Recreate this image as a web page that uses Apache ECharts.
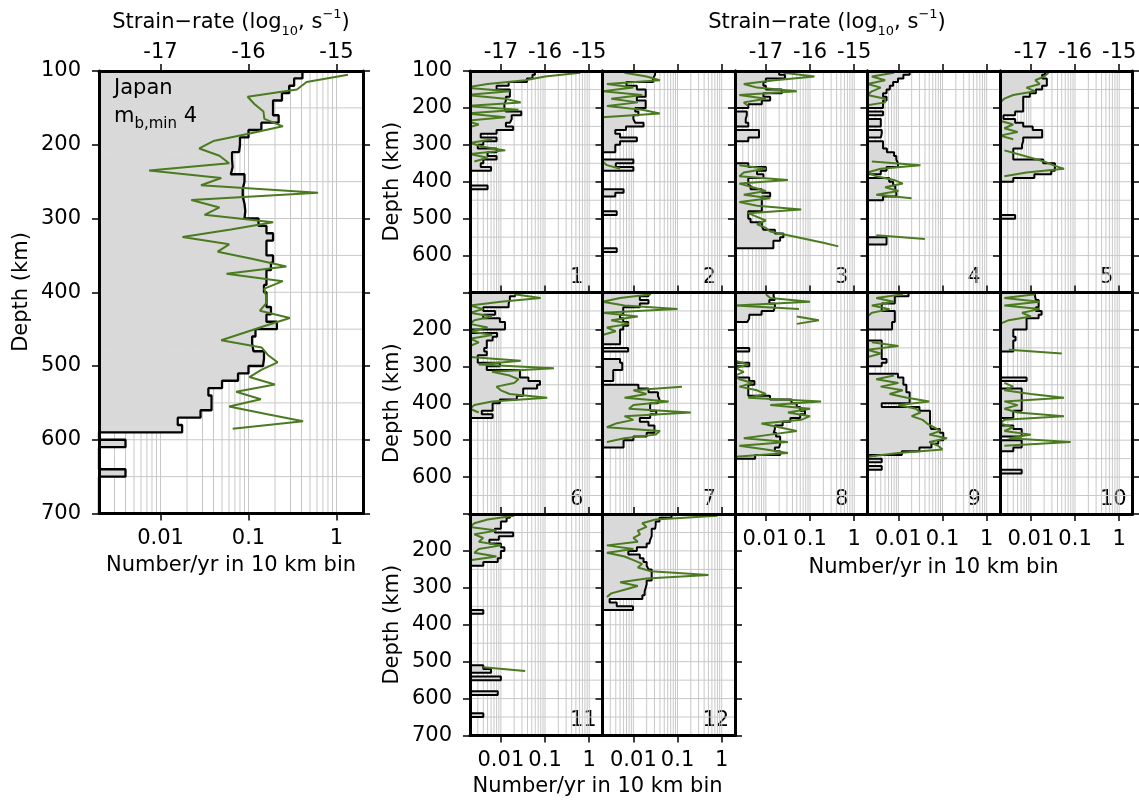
<!DOCTYPE html>
<html><head><meta charset="utf-8">
<script src="https://cdn.jsdelivr.net/npm/echarts@6/dist/echarts.min.js"></script>
<style>html,body{margin:0;padding:0;background:#fff}#c{width:1139px;height:803px}</style>
</head><body><div id="c"></div>
<script>
// ---------------- data ----------------
const DEPTHS = [100,110,120,130,140,150,160,170,180,190,200,210,220,230,240,250,260,270,280,290,
  300,310,320,330,340,350,360,370,380,390,400,410,420,430,440,450,460,470,480,490,
  500,510,520,530,540,550,560,570,580,590,600,610,620,630,640,650,660,670,680,690];
const MID = [105,115,125,135,145,155,165,175,185,195,205,215,225,235,245,255,265,275,285,295,
  305,315,325,335,345,355,365,375,385,395,405,415,425,435,445,455,465,475,485,495,
  505,515,525,535,545,555,565,575,585,595,605,615,625,635,645,655,665,675,685,695];
const BIN = 10;
const X_TICKS = [0.01, 0.1, 1];
const S_TICKS = [-17, -16, -15];
const N = null;

// Number/yr in 10 km bins (depth 100..690)
const H0 = [0.41,0.33,0.29,0.24,0.19,0.19,0.22,0.14,0.10,0.080,0.078,0.065,0.066,0.063,0.090,0.086,0.086,0.090,0.092,0.090,
  0.13,0.16,0.19,0.16,0.16,0.19,0.18,0.16,0.16,0.15,0.16,0.16,0.18,0.16,0.21,0.12,0.11,0.114,0.15,0.146,
  0.10,0.076,0.050,0.035,0.038,0.038,0.0285,0.0157,0.0176,N,0.004,N,N,N,0.004,N,N,N,N,N];
const H1 = [0.059,0.052,0.039,0.015,0.008,0.016,0.016,0.013,0.012,0.012,0.013,0.029,0.0176,0.016,0.013,0.019,0.008,0.0035,0.008,0.004,
  0.003,0.008,0.005,0.008,0.004,0.0035,0.006,N,N,N,N,0.005,N,N,N,N,N,N,N,N,
  N,N,N,N,N,N,N,N,N,N,N,N,N,N,N,N,N,N,N,N];
const H2 = [0.031,0.028,0.028,0.007,0.012,0.019,0.019,0.012,0.019,0.019,0.011,0.013,0.010,0.011,0.017,0.0068,0.0039,0.005,0.012,0.005,
  0.0039,0.0039,N,N,0.010,0.004,0.010,N,N,N,N,N,0.006,0.0039,N,N,N,N,0.0042,N,
  N,N,N,N,N,N,N,N,0.0042,N,N,N,N,N,N,N,N,N,N,N];
const H3 = [0.020,0.027,0.010,0.0088,0.010,0.023,0.0088,0.0125,0.0081,0.004,N,0.0037,0.0035,0.0035,0.004,N,0.007,0.007,0.004,N,
  N,N,N,N,N,0.004,0.010,0.0063,0.0088,0.004,0.004,0.0045,0.0081,0.0125,0.0081,0.0081,0.0081,0.0081,0.004,0.004,
  0.0045,0.0081,0.0088,0.016,0.025,0.021,0.0148,0.0148,N,N,N,N,N,N,N,N,N,N,N,N];
const H4 = [0.018,0.013,0.0098,0.0076,0.0064,0.0054,0.0045,0.0054,0.0045,0.0045,N,0.0045,N,0.004,0.004,N,0.0042,0.004,N,0.0045,
  0.0045,0.0055,0.008,0.009,0.0098,0.0098,0.0054,0.004,N,0.0062,0.0076,0.0085,0.009,0.009,0.0045,N,N,N,N,N,
  N,N,N,N,N,0.0054,0.0054,N,N,N,N,N,N,N,N,N,N,N,N,N];
const H5 = [0.021,0.018,0.023,0.023,0.018,0.013,0.0095,0.0067,0.0067,0.0067,0.0067,0.0044,0.0024,0.0044,0.0067,0.011,0.018,0.018,0.0067,0.0063,
  0.0063,0.0040,0.0040,0.0040,0.019,0.035,0.035,0.029,0.012,0.0040,N,N,N,N,N,N,N,N,N,0.0044,
  N,N,N,N,N,N,N,N,N,N,N,N,N,N,N,N,N,N,N,N];
const H6 = [0.021,0.016,0.015,0.015,0.004,0.0074,0.004,0.0095,0.0124,0.0124,0.0022,0.0082,0.0065,0.0048,0.0048,0.0042,0.0048,0.003,0.003,0.0095,
  0.0048,0.027,0.027,0.042,0.077,0.066,0.032,0.032,0.023,0.0095,0.0065,0.0065,0.0037,0.0065,N,N,N,N,N,N,
  N,N,N,N,N,N,N,N,N,N,N,N,N,N,N,N,N,N,N,N];
const H7 = [0.022,0.014,0.022,0.014,0.0059,0.0059,0.005,0.0059,0.0076,0.0059,0.005,0.005,0.005,0.005,N,0.0076,N,N,0.005,0.0056,
  0.0056,0.0035,0.0035,0.0035,N,0.013,0.022,0.036,0.039,0.036,0.024,0.024,0.033,0.024,0.014,0.022,0.030,0.030,0.020,0.010,
  0.006,0.006,N,N,N,N,N,N,N,N,N,N,N,N,N,N,N,N,N,N];
const H8 = [0.015,0.016,0.012,0.016,0.015,0.008,0.0042,0.0038,N,N,N,N,N,N,N,0.0042,N,N,N,0.0042,
  N,N,N,0.0042,0.0055,0.0040,0.0040,0.0040,0.0124,0.038,0.050,0.060,0.077,0.060,0.036,0.024,0.016,0.015,0.017,0.021,
  0.021,0.020,0.016,0.021,0.0057,N,N,N,N,N,N,N,N,N,N,N,N,N,N,N];
const H9 = [0.017,0.0083,0.0083,0.0042,0.0042,0.0083,0.0083,0.0083,0.0072,0.0072,N,N,N,0.0042,0.0042,0.0042,0.0042,0.0042,0.0054,0.0042,
  N,N,0.0098,0.013,0.013,0.0152,0.0152,0.018,0.018,0.018,0.0042,0.030,0.052,0.052,0.052,0.052,0.055,0.087,0.104,0.104,
  0.080,0.056,0.030,0.012,N,0.0042,N,0.0042,N,N,N,N,N,N,N,N,N,N,N,N];
const H10 = [0.0124,0.013,0.015,0.015,0.013,0.0175,0.015,0.008,0.008,0.008,0.004,0.004,0.0045,0.004,0.004,0.004,N,N,N,N,
  N,N,N,0.008,N,N,0.0062,0.0062,0.0062,0.0062,0.0062,0.0062,0.004,0.004,N,N,0.004,0.0062,0.0062,N,
  0.0062,0.0062,0.004,N,N,N,N,N,0.0062,N,N,N,N,N,N,N,N,N,N,N];
const H11 = [0.016,0.0135,0.010,0.010,0.0073,0.019,0.009,0.0055,0.010,0.012,0.010,0.010,0.0085,0.004,N,N,N,N,N,N,
  N,N,N,N,N,N,0.004,N,N,N,N,N,N,N,N,N,N,N,N,N,
  N,0.004,0.006,N,0.010,N,N,N,0.0085,N,N,N,N,N,0.004,N,N,N,N,N];
const H12 = [0.073,0.039,0.032,0.031,0.026,0.026,0.024,0.023,0.020,0.012,0.0077,0.014,0.017,0.020,0.022,0.026,0.026,0.026,0.020,0.019,
  0.018,0.018,0.016,0.0029,0.0042,0.0098,N,N,N,N,N,N,N,N,N,N,N,N,N,N,
  N,N,N,N,N,N,N,N,N,N,N,N,N,N,N,N,N,N,N,N];

// Strain-rate (log10, s^-1) at bin mid-depths 105..695
const G0 = [-14.87,-15.34,-15.45,-16.01,-15.93,-15.83,-15.82,-15.61,-16.0,-16.4,-16.56,-16.33,-16.22,-17.13,-16.31,-16.54,-15.21,-16.65,-16.33,-16.5,
  -15.72,-16.2,-16.75,-16.22,-16.35,-15.95,-15.57,-16.25,-15.61,-15.82,-15.8,-15.8,-15.87,-15.53,-15.8,-16.05,-16.31,-15.85,-15.78,-15.67,
  -15.85,-15.99,-15.70,-16.14,-15.86,-16.22,-15.8,-15.38,-16.18,N,N,N,N,N,N,N,N,N,N,N];
const G1 = [-15.2,-16.0,-16.45,-17.3,-17.8,-16.8,-17.8,-16.9,-16.55,-17.8,-16.6,-17.8,-16.9,-17.8,-17.5,-17.8,N,N,-17.2,-17.7,
  -17.4,-16.9,-17.7,-17.3,-17.6,N,N,N,N,N,N,N,N,N,N,N,N,N,N,N,
  N,N,N,N,N,N,N,N,N,N,N,N,N,N,N,N,N,N,N,N];
const G2 = [-17.2,-16.7,-16.4,-17.6,-17.0,-17.7,-16.8,-17.5,-16.9,-17.6,-16.8,-16.4,-17.7,N,N,N,N,N,N,N,
  N,N,N,N,-17.7,-17.6,-17.3,N,N,N,N,N,N,N,N,N,N,N,N,N,
  N,N,N,N,N,N,N,N,N,N,N,N,N,N,N,N,N,N,N,N];
const G3 = [-16.6,-15.9,-16.8,-17.5,-17.2,-16.3,-17.6,-17.0,-17.5,-17.4,N,N,N,N,N,N,N,N,N,N,
  N,N,N,N,N,-17.6,-17.0,-17.5,-17.6,-16.5,-17.6,-17.3,-17.0,-17.5,-16.9,-17.6,-17.2,-16.2,-17.4,-17.2,
  -17.0,-17.2,-17.0,-16.9,-16.5,-16.1,-15.7,-15.36,N,N,N,N,N,N,N,N,N,N,N,N];
const G4 = [-17.1,-17.6,-17.3,-17.7,-17.4,-17.6,-17.7,-17.3,-17.3,-17.8,N,N,N,N,N,N,N,N,N,N,
  N,N,N,N,-17.6,-16.5,-17.4,-17.7,-17.5,-17.1,-16.9,-17.3,-17.0,-17.5,-16.7,N,N,N,N,N,
  N,N,N,N,-17.5,-16.4,N,N,N,N,N,N,N,N,N,N,N,N,N,N];
const G5 = [-16.6,-16.7,-16.9,-16.8,-17.1,-16.9,-17.4,-17.6,-17.7,N,N,N,N,-17.7,-17.4,-17.6,-17.3,-17.7,-17.4,N,
  N,-17.6,-17.3,-17.0,-16.7,-16.5,-16.25,-17.1,-17.6,N,N,N,N,N,N,N,N,N,N,N,
  N,N,N,N,N,N,N,N,N,N,N,N,N,N,N,N,N,N,N,N];
const G6 = [-16.7,-16.1,-17.0,-17.7,-17.4,-17.7,-17.2,-17.6,-17.7,-17.3,-17.7,-17.2,-17.7,-17.5,-17.7,N,N,-17.7,-16.55,-17.5,
  -15.8,-17.2,-16.8,-16.6,-16.7,-17.1,-17.0,-16.8,-15.95,-17.2,-17.6,-17.7,-17.5,N,N,N,N,N,N,N,
  N,N,N,N,N,N,N,N,N,N,N,N,N,N,N,N,N,N,N,N];
const G7 = [-16.6,-17.3,-17.7,-17.2,-16.0,-17.7,-16.9,-17.5,-17.1,-17.6,-17.4,-17.7,N,N,N,N,N,N,N,N,
  N,N,N,N,N,-15.9,-17.0,-16.7,-17.2,-16.2,-17.0,-17.1,-15.7,-17.2,-17.0,-17.4,-17.6,-16.4,-16.5,-17.2,
  -17.6,N,N,N,N,N,N,N,N,N,N,N,N,N,N,N,N,N,N,N];
const G8 = [-17.0,-16.9,-16.0,-17.7,-16.25,N,-16.3,-15.8,-16.3,N,N,N,N,N,N,N,N,N,-17.7,-17.4,
  -17.7,-17.5,-17.7,-17.6,-17.3,-17.6,-17.2,-17.0,-17.4,-15.75,-16.9,-16.0,-16.5,-16.0,-16.2,-17.1,-16.7,-16.3,-16.9,-17.5,
  -16.5,-17.6,-17.0,-16.5,-17.7,N,N,N,N,N,N,N,N,N,N,N,N,N,N,N];
const G9 = [-16.9,-17.5,-17.1,-17.6,-17.2,-17.6,-17.7,N,N,N,N,N,N,-17.6,-17.0,-17.7,-17.4,-17.7,N,N,
  N,N,-17.1,-17.5,-17.0,-17.4,-16.9,-17.2,-16.8,-16.3,-17.0,-16.6,-16.5,-16.7,-16.45,-16.35,-16.2,-16.05,-16.3,-15.9,
  -16.3,-16.1,-16.0,-17.0,-17.7,N,N,N,N,N,N,N,N,N,N,N,N,N,N,N];
const G10 = [-16.9,-17.6,-16.8,-17.6,-16.8,-17.2,-17.0,-17.5,-17.7,N,N,N,N,N,N,-17.5,-16.3,N,N,N,
  N,N,N,N,-17.6,-17.4,-17.6,-17.0,-16.25,-17.6,-17.3,-17.6,-17.3,-16.25,-17.6,-17.7,-17.4,-17.6,-17.0,-17.5,
  -16.1,-17.6,N,N,N,N,N,N,N,N,N,N,N,N,N,N,N,N,N,N];
const G11 = [-16.7,-17.3,-17.6,-17.7,-17.1,-17.6,-17.4,-17.5,-17.0,-17.5,-17.6,-17.1,-17.7,N,N,N,N,N,N,N,
  N,N,N,N,N,N,N,N,N,N,N,N,N,N,N,N,N,N,N,N,
  N,-17.4,-16.45,N,N,N,N,N,N,N,N,N,N,N,N,N,N,N,N,N];
const G12 = [-15.1,-16.5,-16.8,-16.7,-16.9,-16.85,-17.0,-16.9,-17.6,-17.0,-17.6,-17.2,-17.0,-16.8,-16.9,-16.6,-15.3,-16.7,-17.3,-16.9,
  -17.2,-17.5,-17.6,N,N,N,N,N,N,N,N,N,N,N,N,N,N,N,N,N,
  N,N,N,N,N,N,N,N,N,N,N,N,N,N,N,N,N,N,N,N];

// ---------------- layout / style ----------------
const LOGMIN = 0.002, LOGMAX = 2;
const SMIN = Math.log10(LOGMIN) - 15, SMAX = Math.log10(LOGMAX) - 15;
const FONT = 'DejaVu Sans';
const FS = 21;
const GRID_COLOR = '#c8c8c8';
const FILL = '#d9d9d9';
const GREEN = '#4b7b21';

const GRID_X = [];
for (let k = -3; k <= 0; k++) for (let m = 1; m <= 9; m++) {
  const v = +(m * Math.pow(10, k)).toPrecision(3);
  if (v > LOGMIN * 1.0001 && v < LOGMAX * 0.9999) GRID_X.push(v);
}
const GRID_Y = [150,200,250,300,350,400,450,500,550,600,650];

const PW = 132.5, PH = 221.5, PL = 470, PT = 71;
const HISTS = [H1,H2,H3,H4,H5,H6,H7,H8,H9,H10,H11,H12];
const GREENS = [G1,G2,G3,G4,G5,G6,G7,G8,G9,G10,G11,G12];
const panels = [{hist:H0, green:G0, left:99, top:71, width:264, height:442.5,
  yLabels:[100,200,300,400,500,600,700], topLabels:true, bottomLabels:true, bottomTicks:true, rightTicks:true, num:null, lw:2.3}];
for (let k = 1; k <= 12; k++) {
  const col = k <= 10 ? (k - 1) % 5 : k - 11;
  const row = k <= 10 ? Math.floor((k - 1) / 5) : 2;
  panels.push({hist:HISTS[k-1], green:GREENS[k-1], left:PL + col*PW, top:PT + row*PH, width:PW, height:PH,
    yLabels: col === 0 ? (row === 0 ? [100,200,300,400,500,600] : row === 1 ? [200,300,400,500,600] : [200,300,400,500,600,700]) : [],
    topLabels: row === 0 && (col === 0 || col === 2 || col === 4),
    bottomLabels: k >= 8, bottomTicks: k >= 8,
    rightTicks: k === 5 || k === 10 || k === 12, num: String(k), lw:2});
}

function fmtN(v) { const e = Math.round(Math.log10(v)); return e < 0 ? v.toFixed(-e) : String(Math.round(v)); }
const labelStyle = {color:'#000', fontSize:FS, fontFamily:FONT};
const frameLine = {show:true, onZero:false, lineStyle:{color:'#000', width:3}};
const tickStyle = {color:'#000', width:1.5};

const grids = [], xAxes = [], yAxes = [], series = [], graphics = [];
panels.forEach((p, g) => {
  grids.push({left:p.left, top:p.top, width:p.width, height:p.height, containLabel:false, outerBoundsMode:'none'});
  xAxes.push({gridIndex:g, type:'log', logBase:10, min:LOGMIN, max:LOGMAX, position:'bottom', z:10,
    axisLine:frameLine,
    axisTick:{show:p.bottomTicks, customValues:X_TICKS, length:7, lineStyle:tickStyle},
    axisLabel:{show:p.bottomLabels, customValues:X_TICKS, formatter:fmtN, margin:15, ...labelStyle},
    splitLine:{show:false}, minorTick:{show:false}, minorSplitLine:{show:false}});
  xAxes.push({gridIndex:g, type:'value', min:SMIN, max:SMAX, position:'top', z:10,
    axisLine:frameLine,
    axisTick:{show:true, customValues:S_TICKS, length:7, lineStyle:tickStyle},
    axisLabel:{show:p.topLabels, customValues:S_TICKS, formatter:v => String(v), margin:8, ...labelStyle},
    splitLine:{show:false}});
  yAxes.push({gridIndex:g, type:'value', inverse:true, min:100, max:700, interval:100, position:'left', z:10,
    axisLine:frameLine,
    axisTick:{show:true, length:7, lineStyle:tickStyle},
    axisLabel:{show:p.yLabels.length > 0, customValues:p.yLabels, margin:18, ...labelStyle},
    splitLine:{show:false}});
  yAxes.push({gridIndex:g, type:'value', inverse:true, min:100, max:700, interval:100, position:'right', z:10,
    axisLine:frameLine,
    axisTick:{show:p.rightTicks, length:7, lineStyle:tickStyle},
    axisLabel:{show:false}, splitLine:{show:false}});

  const xb = 2*g, xt = 2*g + 1, yl = 2*g;
  // grid lines
  series.push({type:'custom', coordinateSystem:'cartesian2d', xAxisIndex:xb, yAxisIndex:yl, silent:true, z:1,
    data: GRID_X.map(v => [v, 100]),
    renderItem: (params, api) => {
      const a = api.coord([api.value(0), 100]), b = api.coord([api.value(0), 700]);
      return {type:'line', shape:{x1:a[0], y1:a[1], x2:b[0], y2:b[1]}, style:{stroke:GRID_COLOR, lineWidth:1}};
    }});
  series.push({type:'custom', coordinateSystem:'cartesian2d', xAxisIndex:xb, yAxisIndex:yl, silent:true, z:1,
    data: GRID_Y.map(d => [LOGMIN, d]),
    renderItem: (params, api) => {
      const a = api.coord([LOGMIN, api.value(1)]), b = api.coord([LOGMAX, api.value(1)]);
      return {type:'line', shape:{x1:a[0], y1:a[1], x2:b[0], y2:b[1]}, style:{stroke:GRID_COLOR, lineWidth:1}};
    }});
  // histogram fill
  series.push({type:'custom', coordinateSystem:'cartesian2d', xAxisIndex:xb, yAxisIndex:yl, silent:true, z:2,
    data: p.hist.map((n, i) => n == null ? null : [n, DEPTHS[i]]).filter(Boolean),
    renderItem: (params, api) => {
      const d = api.value(1);
      const a = api.coord([LOGMIN, d]), b = api.coord([api.value(0), d + BIN]);
      return {type:'rect', shape:{x:a[0], y:a[1], width:b[0]-a[0], height:b[1]-a[1]+0.6}, style:{fill:FILL}};
    }});
  // histogram outline
  const steps = [];
  p.hist.forEach((n, i) => { const x = n == null ? LOGMIN : n; steps.push([x, DEPTHS[i]], [x, DEPTHS[i] + BIN]); });
  series.push({type:'line', xAxisIndex:xb, yAxisIndex:yl, data:steps, symbol:'none', silent:true, z:3,
    lineStyle:{color:'#000', width:p.lw}, animation:false});
  // strain-rate line
  series.push({type:'line', xAxisIndex:xt, yAxisIndex:yl, data:p.green.map((s, i) => [s == null ? '-' : s, MID[i]]),
    symbol:'none', silent:true, z:4, connectNulls:false, lineStyle:{color:GREEN, width:2}, animation:false});

  if (p.num) graphics.push({type:'text', x:p.left + 100, y:p.top + p.height - 4,
    style:{text:p.num, fontSize:FS, fontFamily:FONT, fill:'#000', align:'left', textAlign:'left', verticalAlign:'bottom', textVerticalAlign:'bottom'}});
});

function txt(x, y, text, opts) {
  return Object.assign({type:'text', x, y, z:100,
    style:Object.assign({text, fontSize:FS, fontFamily:FONT, fill:'#000', align:'center', textAlign:'center', verticalAlign:'middle', textVerticalAlign:'middle'}, opts || {})});
}
const titleRich = {
  a:{fontSize:FS, fontFamily:FONT, lineHeight:30, verticalAlign:'middle', color:'#000'},
  sub:{fontSize:13, fontFamily:FONT, lineHeight:15, verticalAlign:'bottom', color:'#000'},
  sup:{fontSize:13, fontFamily:FONT, lineHeight:21, verticalAlign:'top', color:'#000'}
};
const titleText = '{a|Strain\u2212rate (log}{sub|10}{a|, s}{sup|\u22121}{a|)}';
graphics.push(txt(231, 23, titleText, {rich:titleRich}));
graphics.push(txt(827, 23, titleText, {rich:titleRich}));
graphics.push(txt(231, 566, 'Number/yr in 10 km bin'));
graphics.push(txt(933.5, 568, 'Number/yr in 10 km bin'));
graphics.push(txt(597.5, 787, 'Number/yr in 10 km bin'));
[[22, 292], [393, 181.75], [393, 403.25], [393, 624.75]].forEach(([x, y]) => {
  const t = txt(x, y, 'Depth (km)'); t.rotation = Math.PI / 2; graphics.push(t);
});
graphics.push(txt(114, 89, 'Japan', {align:'left', textAlign:'left'}));
graphics.push(txt(114, 117, '{a|m}{sub|b,min}{a| 4}', {align:'left', textAlign:'left', rich:{
  a:{fontSize:FS, fontFamily:FONT, lineHeight:30, verticalAlign:'middle', color:'#000'},
  sub:{fontSize:15, fontFamily:FONT, lineHeight:17, verticalAlign:'bottom', color:'#000'}}}));

const chart = echarts.init(document.getElementById('c'), null, {renderer:'canvas'});
chart.setOption({
  animation:false,
  backgroundColor:'#fff',
  textStyle:{fontFamily:FONT},
  grid:grids, xAxis:xAxes, yAxis:yAxes, series, graphic:graphics
});
</script>
</body></html>
